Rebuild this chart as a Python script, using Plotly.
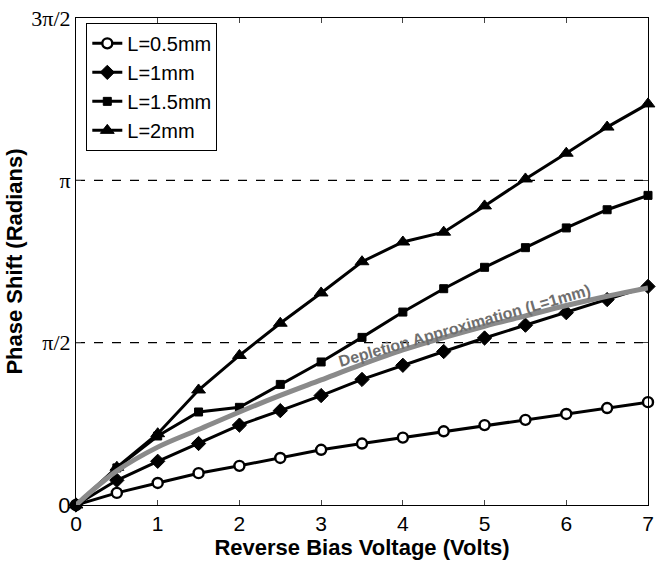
import plotly.graph_objects as go
import math

voltage = [0, 0.5, 1, 1.5, 2, 2.5, 3, 3.5, 4, 4.5, 5, 5.5, 6, 6.5, 7]
phase_L05 = [0, 0.117, 0.213, 0.308, 0.379, 0.455, 0.534, 0.595, 0.652, 0.713, 0.773, 0.824, 0.881, 0.938, 0.995]
phase_L1 = [0, 0.239, 0.423, 0.595, 0.773, 0.913, 1.059, 1.215, 1.352, 1.485, 1.616, 1.740, 1.861, 1.988, 2.115]
phase_L15 = [0, 0.359, 0.668, 0.900, 0.945, 1.167, 1.384, 1.622, 1.867, 2.093, 2.300, 2.490, 2.681, 2.857, 2.996]
phase_L2 = [0, 0.365, 0.690, 1.113, 1.447, 1.759, 2.052, 2.354, 2.545, 2.640, 2.894, 3.155, 3.404, 3.657, 3.881]
depletion_L1 = [0, 0.33, 0.56, 0.73, 0.90, 1.06, 1.21, 1.36, 1.50, 1.62, 1.73, 1.83, 1.93, 2.02, 2.10]

ytick_vals = [0, math.pi / 2, math.pi, 3 * math.pi / 2]
ytick_text = ['<span style="font-family:Liberation Sans, Arial">0</span>', "π/2", "π", "3π/2"]
xtick_vals = [0, 1, 2, 3, 4, 5, 6, 7]
dashed_levels = [math.pi / 2, math.pi]

series = [
    ("L=0.5mm", phase_L05, dict(symbol="circle", size=10, color="white", line=dict(color="black", width=2.4))),
    ("L=1mm", phase_L1, dict(symbol="diamond", size=11, color="black", line=dict(color="black", width=1))),
    ("L=1.5mm", phase_L15, dict(symbol="square", size=8, color="black", line=dict(color="black", width=1))),
    ("L=2mm", phase_L2, dict(symbol="triangle-up", size=12, color="black", line=dict(color="black", width=1))),
]

fig = go.Figure()
for name, ys, mk in series:
    fig.add_trace(go.Scatter(x=voltage, y=ys, name=name, mode="lines+markers",
                             line=dict(color="black", width=3), marker=mk, cliponaxis=False))

fig.add_trace(go.Scatter(x=voltage, y=depletion_L1, mode="lines", showlegend=False,
                         line=dict(color="#8a8a8a", width=5, shape="spline")))

for lv in dashed_levels:
    fig.add_shape(type="line", xref="paper", x0=0, x1=1, yref="y", y0=lv, y1=lv,
                  line=dict(color="black", width=1.3, dash="dash"), layer="below")

fig.add_annotation(x=4.76, y=1.735, text="<b>Depletion Approximation (L=1mm)</b>", showarrow=False,
                   textangle=-16, font=dict(family="Liberation Sans, Arial", size=16, color="#6e6e6e"))

fig.update_layout(
    width=660, height=561,
    margin=dict(l=76, r=6, t=11, b=56),
    paper_bgcolor="white", plot_bgcolor="white",
    font=dict(family="Liberation Sans, Arial", color="black"),
    showlegend=True,
    legend=dict(x=0.018, y=0.99, xanchor="left", yanchor="top", bgcolor="white",
                bordercolor="black", borderwidth=1, font=dict(size=20), itemwidth=30),
    xaxis=dict(range=[0, 7], tickvals=xtick_vals, ticks="inside", ticklen=5, showline=True,
               linecolor="black", linewidth=1, mirror="ticks", showgrid=False, zeroline=False,
               tickfont=dict(size=21), ticklabeloverflow="allow",
               title=dict(text="<b>Reverse Bias Voltage (Volts)</b>", font=dict(size=22), standoff=2)),
    yaxis=dict(range=[0, 3 * math.pi / 2], tickvals=ytick_vals, ticktext=ytick_text, ticks="inside",
               ticklen=5, showline=True, linecolor="black", linewidth=1, mirror="ticks",
               showgrid=False, zeroline=False, ticklabeloverflow="allow",
               tickfont=dict(family="Liberation Serif, Times New Roman", size=22),
               title=dict(text="<b>Phase Shift (Radians)</b>", font=dict(size=22), standoff=2)),
)

fig.write_html("out.html", config={"displayModeBar": False},
               post_script="document.body.style.margin='0';")
